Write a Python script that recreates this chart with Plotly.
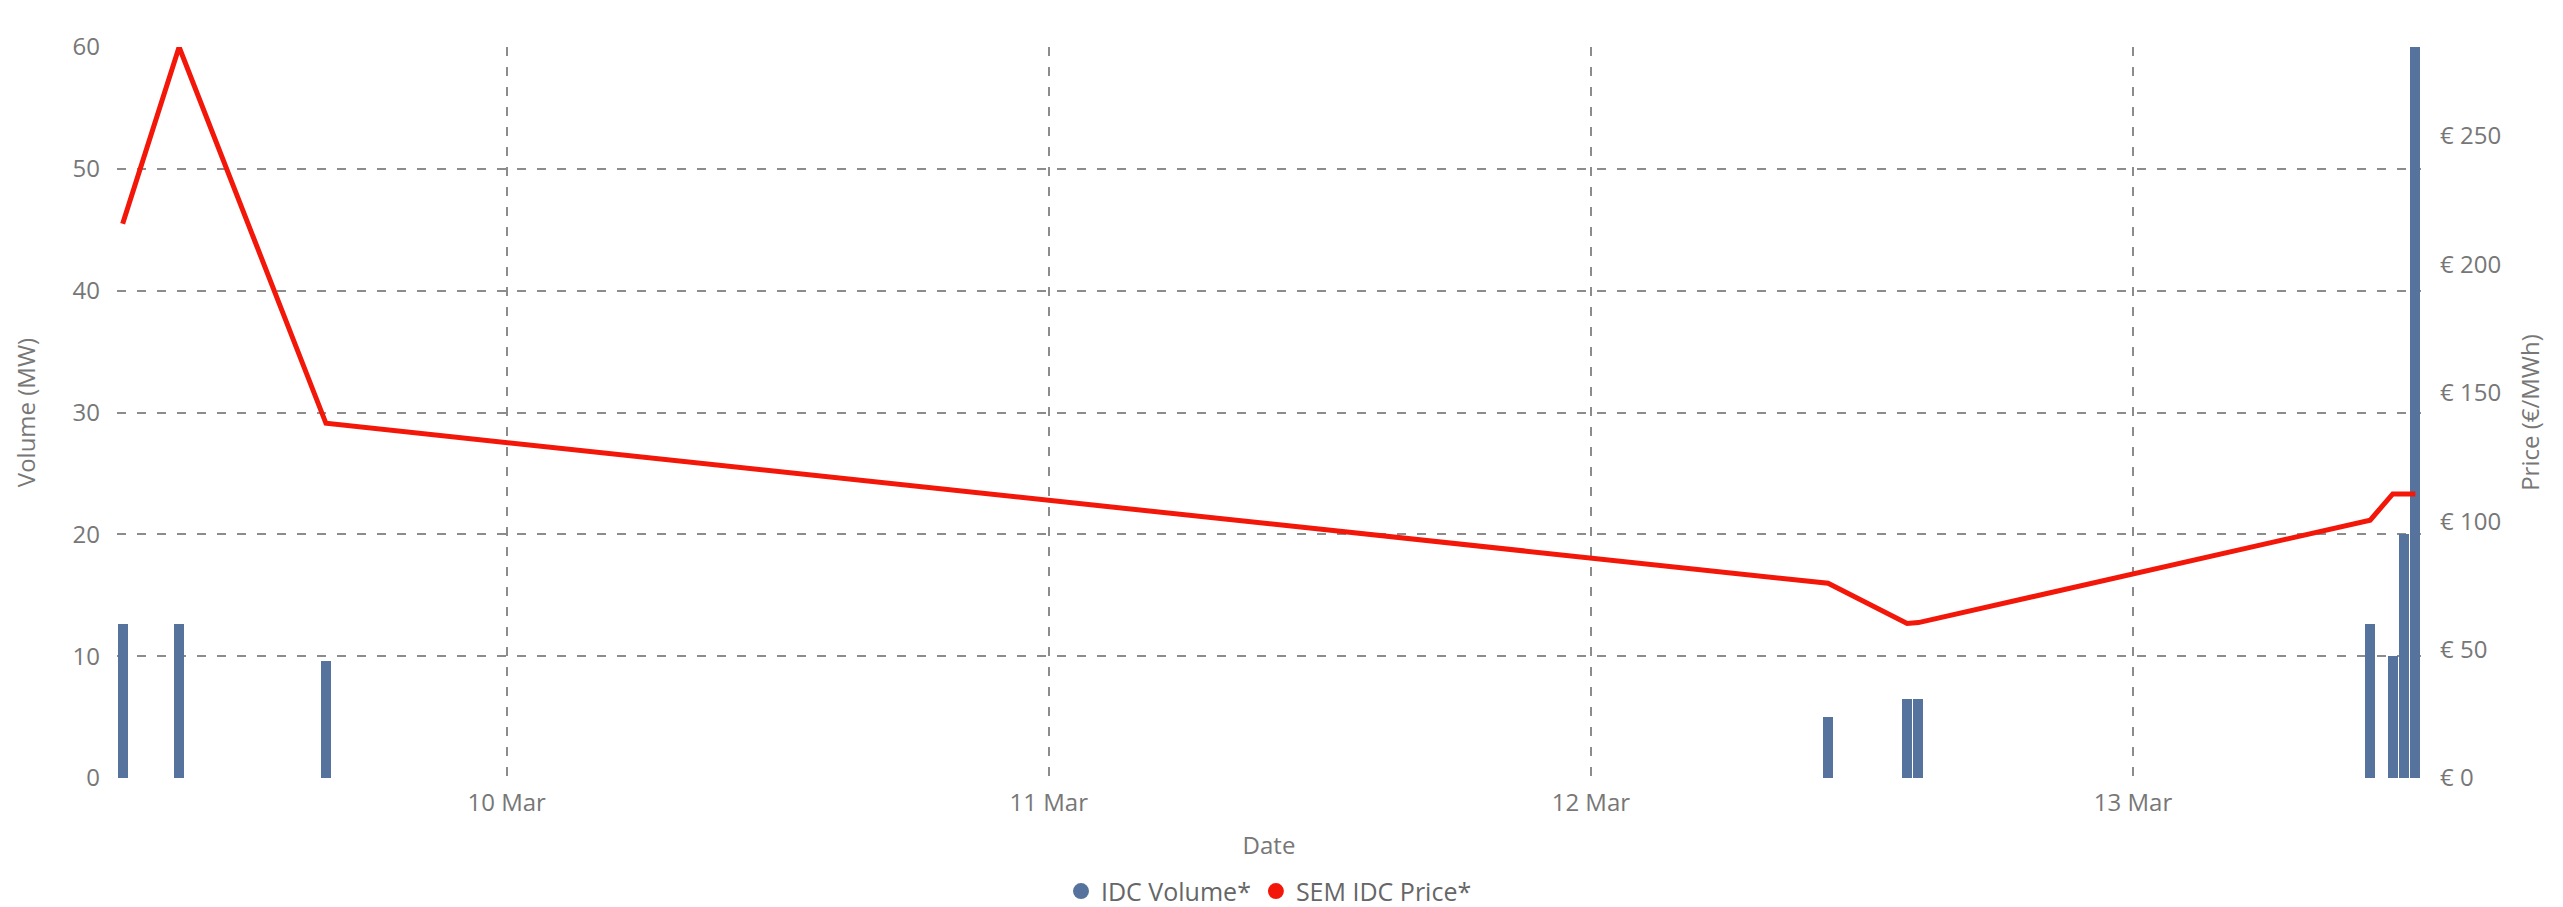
import plotly.graph_objects as go

# ---- data ----
vol_times = ["2023-03-09 07:00", "2023-03-09 09:30", "2023-03-09 16:00",
             "2023-03-12 10:30", "2023-03-12 14:00", "2023-03-12 14:30",
             "2023-03-13 10:30", "2023-03-13 11:30", "2023-03-13 12:00",
             "2023-03-13 12:30"]
volumes = [12.6, 12.6, 9.6, 5.0, 6.5, 6.5, 12.6, 10.0, 20.0, 60.0]
prices = [215.8, 284.6, 138.1, 75.8, 60.2, 60.5, 100.4, 110.6, 110.6, 110.6]

x_range = ["2023-03-09 06:45", "2023-03-13 12:45"]
vol_range = [0, 60]
price_range = [0, 284.6]

BLUE = "#56739D"
RED = "#F3170A"
GRID = "#8C8C8C"
TXT = "#777777"
FONT = "Open Sans"

fig = go.Figure()
fig.add_trace(go.Bar(x=vol_times, y=volumes, name="IDC Volume*",
                     marker=dict(color=BLUE, line=dict(width=0)),
                     width=26.5 * 60 * 1000, yaxis="y", showlegend=False))
fig.add_trace(go.Scatter(x=vol_times, y=prices, name="SEM IDC Price*",
                         mode="lines", line=dict(color=RED, width=5),
                         yaxis="y2", showlegend=False))
# legend entries with circular markers
fig.add_trace(go.Scatter(x=[None], y=[None], mode="markers", name="IDC Volume*",
                         marker=dict(color=BLUE, size=18, symbol="circle")))
fig.add_trace(go.Scatter(x=[None], y=[None], mode="markers", name="SEM IDC Price*",
                         marker=dict(color=RED, size=18, symbol="circle")))

fig.update_layout(
    width=2563, height=907,
    margin=dict(l=117, r=142, t=47, b=129, pad=0, autoexpand=False),
    paper_bgcolor="white", plot_bgcolor="white",
    font=dict(family=FONT, size=25, color=TXT),
    bargap=0,
    showlegend=True,
    legend=dict(orientation="h", x=0.5, xanchor="center", y=-0.155,
                yanchor="middle", font=dict(size=25, color="#666666"),
                itemsizing="trace", itemwidth=30, tracegroupgap=0),
    xaxis=dict(type="date", range=x_range, dtick=86400000,
               tick0="2023-03-10", tickformat="%-d %b", automargin=False,
               showgrid=True, gridcolor=GRID, gridwidth=1.6, griddash="9px,11px",
               zeroline=False, showline=False, ticks="",
               ticklabelstandoff=8,
               tickfont=dict(size=24, color=TXT),
               title=dict(text="Date", font=dict(size=24, color=TXT), standoff=20)),
    yaxis=dict(range=vol_range, dtick=10, showgrid=True, gridcolor=GRID,
               gridwidth=1.6, griddash="9px,11px", zeroline=False, automargin=False,
               showline=False, ticks="", ticklabelstandoff=16,
               tickfont=dict(size=24, color=TXT),
               title=dict(text="Volume (MW)", font=dict(size=24, color=TXT),
                          standoff=30)),
    yaxis2=dict(range=price_range, dtick=50, overlaying="y", side="right",
                showgrid=False, zeroline=False, showline=False, ticks="",
                tickprefix="€ ", ticklabelstandoff=18, automargin=False,
                tickfont=dict(size=24, color=TXT),
                title=dict(text="Price (€/MWh)", font=dict(size=24, color=TXT),
                           standoff=22)),
)

fig.write_html("out.html", config={"displayModeBar": False},
               post_script="document.body.style.margin='0';document.body.style.overflow='hidden';")
